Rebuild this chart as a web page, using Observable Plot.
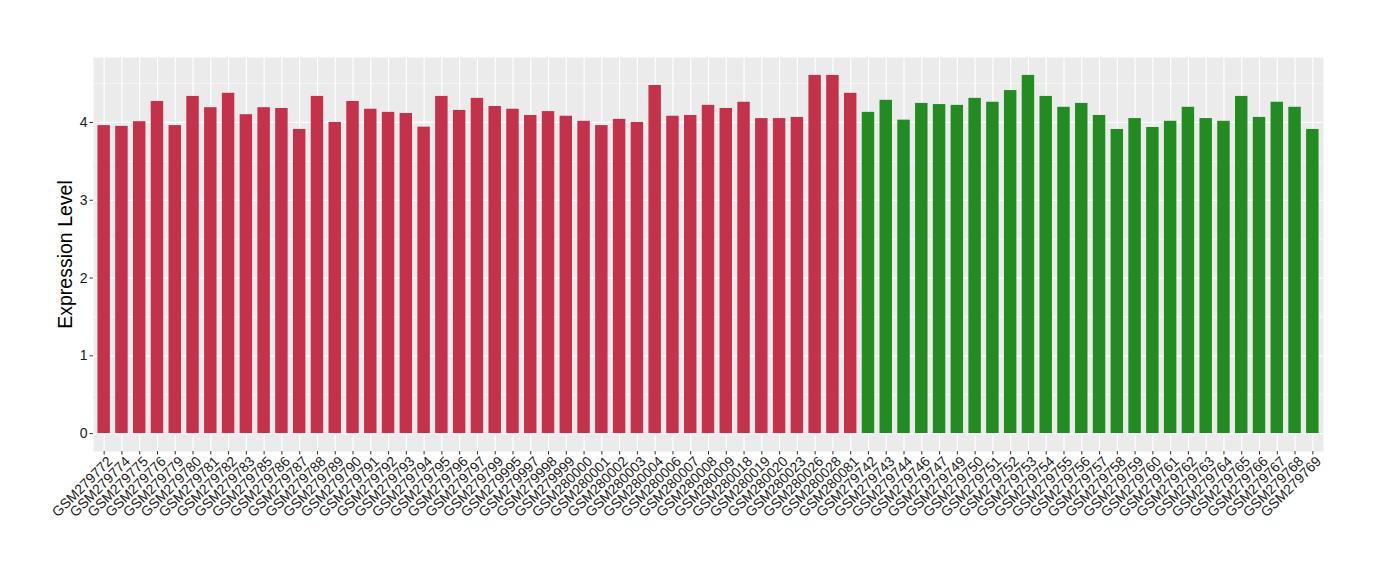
<!DOCTYPE html>
<html>
<head>
<meta charset="utf-8">
<script src="https://cdn.jsdelivr.net/npm/d3@7"></script>
<script src="https://cdn.jsdelivr.net/npm/@observablehq/plot@0.6"></script>
<style>
  html, body { margin: 0; padding: 0; background: white; }
</style>
</head>
<body>
<div id="chart"></div>
<script>
const redSamples = ["GSM279772","GSM279774","GSM279775","GSM279776","GSM279779","GSM279780","GSM279781","GSM279782","GSM279783","GSM279785","GSM279786","GSM279787","GSM279788","GSM279789","GSM279790","GSM279791","GSM279792","GSM279793","GSM279794","GSM279795","GSM279796","GSM279797","GSM279799","GSM279995","GSM279997","GSM279998","GSM279999","GSM280000","GSM280001","GSM280002","GSM280003","GSM280004","GSM280006","GSM280007","GSM280008","GSM280009","GSM280018","GSM280019","GSM280020","GSM280023","GSM280026","GSM280028","GSM280081"];
const redValues = [3.96,3.95,4.01,4.27,3.96,4.335,4.19,4.375,4.10,4.19,4.18,3.91,4.335,4.00,4.27,4.17,4.13,4.115,3.94,4.335,4.155,4.31,4.205,4.17,4.09,4.14,4.08,4.015,3.96,4.04,4.00,4.475,4.08,4.09,4.22,4.18,4.26,4.05,4.05,4.065,4.605,4.605,4.375];
const greenSamples = ["GSM279742","GSM279743","GSM279744","GSM279746","GSM279747","GSM279749","GSM279750","GSM279751","GSM279752","GSM279753","GSM279754","GSM279755","GSM279756","GSM279757","GSM279758","GSM279759","GSM279760","GSM279761","GSM279762","GSM279763","GSM279764","GSM279765","GSM279766","GSM279767","GSM279768","GSM279769"];
const greenValues = [4.13,4.285,4.03,4.245,4.23,4.22,4.31,4.26,4.41,4.605,4.335,4.195,4.245,4.09,3.91,4.05,3.935,4.015,4.195,4.05,4.015,4.335,4.065,4.26,4.195,3.91];
const groupNames = ["A","B"];
const yMajorTicks = [0,1,2,3,4];
const yMinorTicks = [0.5,1.5,2.5,3.5,4.5];
const yLabel = "Expression Level";

const data = [
  ...redSamples.map((s,i)=>({sample:s, value:redValues[i], group:groupNames[0]})),
  ...greenSamples.map((s,i)=>({sample:s, value:greenValues[i], group:groupNames[1]}))
];
const samples = data.map(d=>d.sample);
const ymax = d3.max(data, d=>d.value);

const chart = Plot.plot({
  width: 1380,
  height: 580,
  marginLeft: 93,
  marginRight: 57,
  marginTop: 57,
  marginBottom: 129,
  style: {fontFamily: "'Liberation Sans', Arial, Helvetica, sans-serif", fontSize: "14px", background: "white", color: "#1a1a1a"},
  x: {domain: samples, paddingInner: 0.3, paddingOuter: 0.25, label: null},
  y: {domain: [-0.05*ymax, 1.05*ymax], label: null},
  color: {domain: groupNames, range: ["#C3324A", "#228B22"]},
  marks: [
    Plot.frame({fill: "#EBEBEB", stroke: null}),
    Plot.ruleY(yMinorTicks, {stroke: "white", strokeWidth: 0.6}),
    Plot.ruleY(yMajorTicks, {stroke: "white", strokeWidth: 1.2}),
    Plot.ruleX(samples, {x: d=>d, stroke: "white", strokeWidth: 1.2}),
    Plot.barY(data, {x: "sample", y: "value", fill: "group"}),
    Plot.axisY({ticks: yMajorTicks, tickFormat: d3.format("d"), tickSize: 3.5, tickPadding: 2.5, label: null, fontSize: 14, stroke: "#333", fill: "#1a1a1a"}),
    Plot.axisX({tickRotate: -45, tickSize: 3.5, tickPadding: 2, label: null, fontSize: 14, stroke: "#333", fill: "#1a1a1a", text: null}),
    Plot.axisX({tickRotate: -45, tickSize: 0, tickPadding: 5.5, label: null, fontSize: 14, fill: "#1a1a1a", dx: 6, dy: 2})
    ,
    Plot.text([yLabel], {frameAnchor: "left", textAnchor: "middle", dx: -28, rotate: -90, fontSize: 19.5, fill: "black", text: d=>d})
  ]
});
document.getElementById("chart").appendChild(chart);
</script>
</body>
</html>
